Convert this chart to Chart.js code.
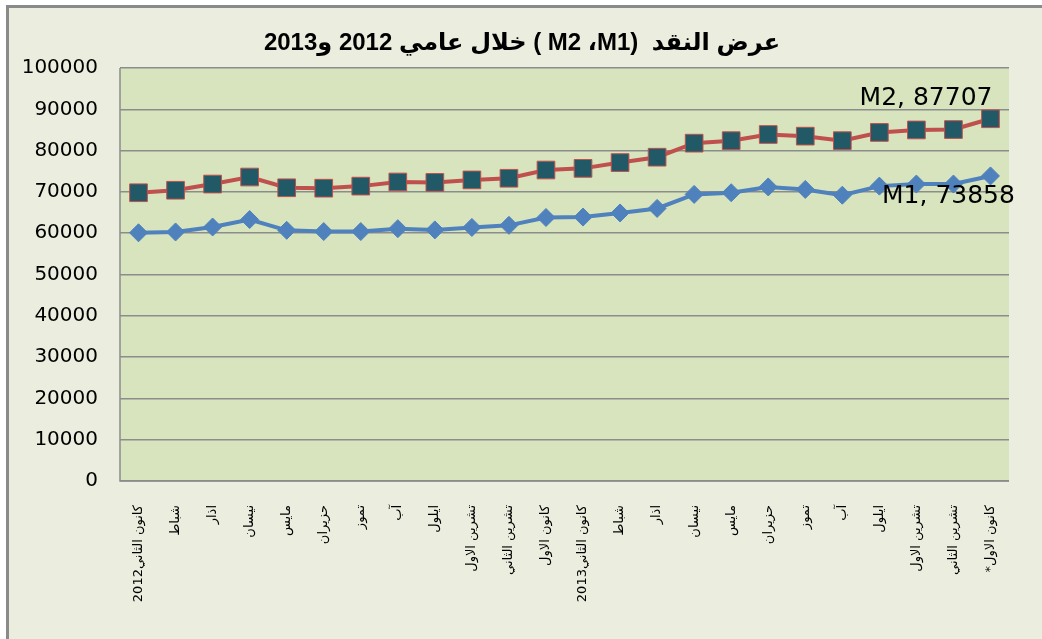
<!DOCTYPE html>
<html>
<head>
<meta charset="utf-8">
<script src="https://cdn.jsdelivr.net/npm/chart.js@4.4.0/dist/chart.umd.min.js"></script>
<style>
  body { margin: 0; background: #ffffff; }
  #frame {
    position: absolute; left: 6px; top: 5px; width: 1100px; height: 700px;
    border: 3px solid #8a8a8a; background: #ebeedf;
  }
  #wrap { position: absolute; left: 0; top: 0; width: 1042px; height: 639px; }
  #chart { direction: rtl; }
</style>
</head>
<body>
<div id="frame"></div>
<div id="wrap"><canvas id="chart"></canvas></div>
<script>
// month labels (2012 then 2013)
const months = [
  'كانون الثاني2012', 'شباط', 'اذار', 'نيسان', 'مايس', 'حزيران', 'تموز', 'آب',
  'ايلول', 'تشرين الاول', 'تشرين الثاني', 'كانون الاول',
  'كانون الثاني2013', 'شباط', 'اذار', 'نيسان', 'مايس', 'حزيران', 'تموز', 'آب',
  'ايلول', 'تشرين الاول', 'تشرين الثاني', 'كانون الاول*'
];

const m1Values = [60100, 60300, 61500, 63300, 60700, 60400, 60400, 61100, 60800, 61400, 61900, 63800,
                  63900, 64900, 66000, 69400, 69800, 71200, 70600, 69200, 71400, 71900, 71900, 73858];
const m2Values = [69800, 70400, 71900, 73600, 71000, 70900, 71400, 72400, 72300, 72900, 73300, 75300,
                  75700, 77100, 78400, 81800, 82400, 83900, 83500, 82400, 84400, 85000, 85100, 87707];

const yTicks = [0, 10000, 20000, 30000, 40000, 50000, 60000, 70000, 80000, 90000, 100000];

// RLM after M1 keeps "M2 ،M1" in right-to-left order like the original
const chartTitle = 'عرض النقد  (M1\u200F، M2 ) خلال عامي 2012 و2013';

Chart.defaults.font.family = "'DejaVu Sans', sans-serif";
Chart.defaults.color = '#000000';

// plot area fill + border
const plotArea = {
  id: 'plotArea',
  beforeDraw(chart) {
    const { ctx, chartArea: a } = chart;
    ctx.save();
    ctx.fillStyle = '#d7e4bd';
    ctx.fillRect(a.left, a.top, a.right - a.left, a.bottom - a.top);
    ctx.restore();
  },
  beforeDatasetsDraw(chart) {
    const { ctx, chartArea: a } = chart;
    ctx.save();
    ctx.strokeStyle = '#8c8c8c';
    ctx.lineWidth = 1.5;
    ctx.beginPath();
    ctx.moveTo(a.left, a.top);
    ctx.lineTo(a.left, a.bottom);
    ctx.lineTo(a.right, a.bottom);
    ctx.stroke();
    ctx.restore();
  }
};

// rtl title drawn above the plot
const rtlTitle = {
  id: 'rtlTitle',
  afterDraw(chart) {
    const ctx = chart.ctx;
    ctx.save();
    ctx.direction = 'rtl';
    ctx.font = "bold 24px 'Liberation Sans', 'DejaVu Sans', sans-serif";
    ctx.fillStyle = '#000';
    ctx.textAlign = 'center';
    ctx.textBaseline = 'middle';
    ctx.fillText(chartTitle, 522, 43);
    ctx.restore();
  }
};

// "M2, 87707" style labels on the last point
const lastLabels = {
  id: 'lastLabels',
  afterDatasetsDraw(chart) {
    const ctx = chart.ctx;
    ctx.save();
    ctx.direction = 'ltr';
    ctx.font = "25px 'DejaVu Sans', sans-serif";
    ctx.fillStyle = '#000';
    ctx.textBaseline = 'middle';
    chart.data.datasets.forEach((ds, i) => {
      const pts = chart.getDatasetMeta(i).data;
      const p = pts[pts.length - 1];
      const txt = ds.label + ', ' + ds.data[ds.data.length - 1];
      if (ds.label === 'M2') {
        ctx.textAlign = 'right';
        ctx.fillText(txt, p.x + 2, p.y - 20);
      } else {
        ctx.textAlign = 'center';
        ctx.fillText(txt, p.x - 42, p.y + 21);
      }
    });
    ctx.restore();
  }
};

new Chart(document.getElementById('chart'), {
  type: 'line',
  data: {
    labels: months,
    datasets: [
      {
        label: 'M1',
        data: m1Values,
        borderColor: '#4f81bd',
        borderWidth: 4,
        pointStyle: 'rectRot',
        pointRadius: 9,
        pointBackgroundColor: '#4f81bd',
        pointBorderColor: '#4f81bd',
        pointBorderWidth: 1,
        tension: 0
      },
      {
        label: 'M2',
        data: m2Values,
        borderColor: '#c0504d',
        borderWidth: 4,
        pointStyle: 'rect',
        pointRadius: 12.5,
        pointBackgroundColor: '#215967',
        pointBorderColor: '#c0504d',
        pointBorderWidth: 1,
        tension: 0
      }
    ]
  },
  options: {
    responsive: true,
    maintainAspectRatio: false,
    animation: false,
    layout: { padding: { left: 0, right: 33, top: 68, bottom: 0 } },
    plugins: {
      legend: { display: false },
      tooltip: { enabled: false }
    },
    scales: {
      x: {
        offset: true,
        afterFit: s => { s.height = 158; },
        grid: { display: false },
        border: { display: false },
        ticks: {
          autoSkip: false,
          minRotation: 90,
          maxRotation: 90,
          padding: 16,
          font: { size: 13 }
        }
      },
      y: {
        min: 0,
        max: 100000,
        afterFit: s => { s.width = 120; },
        afterBuildTicks: s => { s.ticks = yTicks.map(v => ({ value: v })); },
        grid: { color: '#8c8c8c', lineWidth: 1.5, drawTicks: false },
        border: { display: false },
        ticks: {
          padding: 22,
          font: { size: 20 },
          callback: v => String(v)
        }
      }
    }
  },
  plugins: [plotArea, rtlTitle, lastLabels]
});
</script>
</body>
</html>
